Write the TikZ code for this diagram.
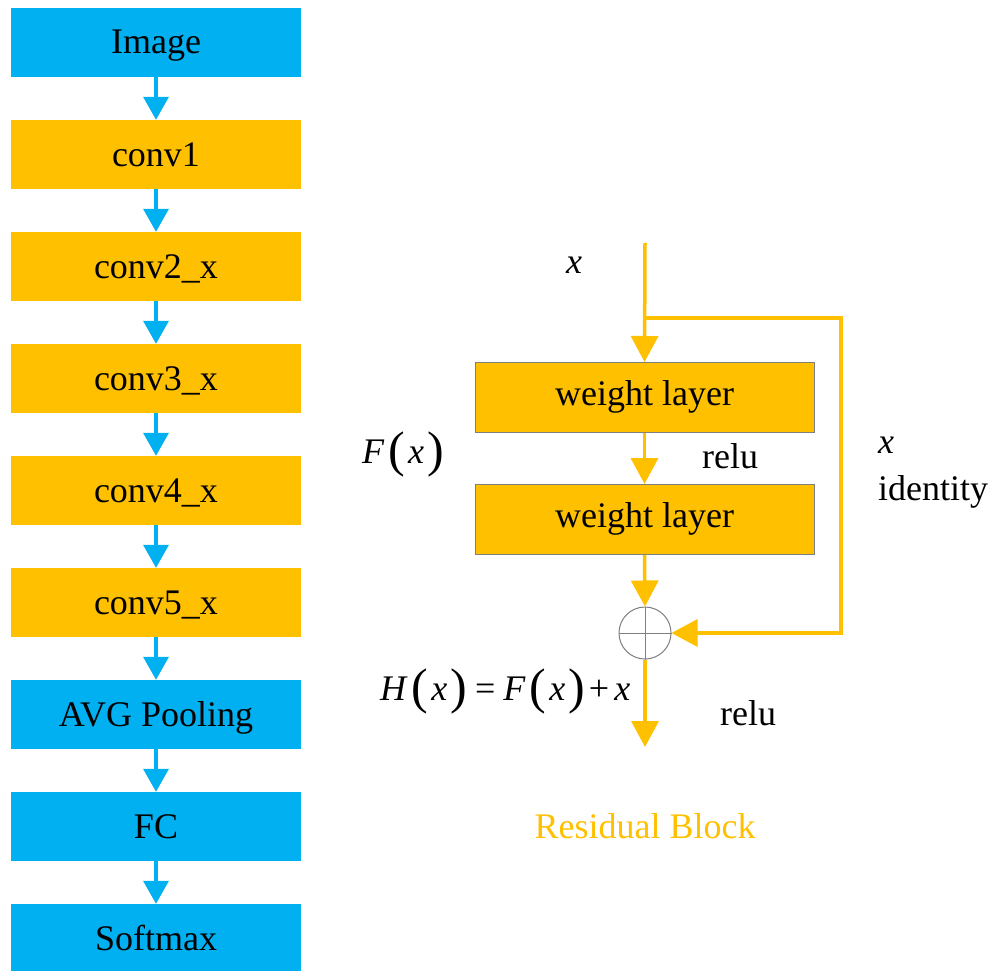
\documentclass[tikz,border=0pt]{standalone}
\usepackage{fontspec}
\setmainfont{Liberation Serif}
\usetikzlibrary{arrows.meta}
\definecolor{netblue}{HTML}{00B0F0}
\definecolor{netorange}{HTML}{FFC000}
\definecolor{edgegray}{HTML}{7F7F7F}

% tall parentheses around function arguments
\newcommand\tallparen[1]{\raisebox{-3pt}{\fontsize{50}{50}\selectfont #1}}
\newcommand\fnof[2]{\textit{#1}\kern4pt\tallparen{(}\kern3pt\textit{#2}\kern3pt\tallparen{)}}

\begin{document}
\begin{tikzpicture}[x=1pt,y=-1pt,
  font=\fontsize{36}{40}\selectfont,
  layer/.style={minimum width=290pt, minimum height=69pt, inner sep=0pt,
    text height=31pt, text depth=8pt},
  bluebox/.style={layer, fill=netblue},
  orangebox/.style={layer, fill=netorange},
  weightbox/.style={minimum width=339pt, minimum height=70pt, inner sep=0pt,
    text height=23pt, text depth=8pt,
    fill=netorange, draw=edgegray, line width=1pt},
  flow/.style={draw=netblue, line width=3.5pt, -{Triangle[width=25pt,length=23pt]}},
  oline/.style={draw=netorange, line width=3.5pt, line join=miter},
  oflow/.style={oline, -{Triangle[width=27pt,length=26pt]}},
  label/.style={inner sep=0pt, anchor=base west}
]
\useasboundingbox (0,0) rectangle (996,971);

% network pipeline
\node[bluebox]   (img)   at (156,42.5)  {Image};
\node[orangebox] (c1)    at (156,154.5) {conv1};
\node[orangebox] (c2)    at (156,266.5) {conv2\_x};
\node[orangebox] (c3)    at (156,378.5) {conv3\_x};
\node[orangebox] (c4)    at (156,490.5) {conv4\_x};
\node[orangebox] (c5)    at (156,602.5) {conv5\_x};
\node[bluebox]   (pool)  at (156,714.5) {AVG Pooling};
\node[bluebox]   (fc)    at (156,826.5) {FC};
\node[bluebox]   (soft)  at (156,938.5) {Softmax};

\foreach \a/\b in {img/c1,c1/c2,c2/c3,c3/c4,c4/c5,c5/pool,pool/fc,fc/soft}
  \draw[flow] (\a.south) -- (\b.north);

% residual block
\coordinate (in)    at (645,243);
\coordinate (split) at (645,318);
\coordinate (rtop)  at (841,318);
\coordinate (rbot)  at (841,633);
\coordinate (out)   at (645,747);
\node[weightbox] (w1) at (644.5,397.5) {weight layer};
\node[weightbox] (w2) at (644.5,519.5) {weight layer};
\node[circle, draw=edgegray, line width=1pt, minimum size=52pt, inner sep=0pt] (sum) at (645,633) {};
\draw[edgegray, line width=1pt] (sum.north) -- (sum.south) (sum.west) -- (sum.east);

\draw[oflow] (in) -- (w1.north);
\draw[oflow] (split) -- (rtop) -- (rbot) -- (sum.east);
\draw[oflow] (w1.south) -- (w2.north);
\draw[oflow] (w2.south) -- (sum.north);
\draw[oflow] (sum.south) -- (out);

% annotations
\node[label] (xin)   at (566,273) {\textit{x}};
\node[label] (fx)    at (362,463) {\fnof{F}{x}};
\node[label] (relu1) at (702,468) {relu};
\node[label] (xid)   at (878,453) {\textit{x}};
\node[label] (ident) at (878,500) {identity};
\node[label] (hx)    at (380,700) {\fnof{H}{x}\kern8pt=\kern8pt\fnof{F}{x}\kern4pt+\kern5pt\textit{x}};
\node[label] (relu2) at (720,725) {relu};
\node[inner sep=0pt, anchor=base, text=netorange] (title) at (645,838) {Residual Block};
\end{tikzpicture}
\end{document}
